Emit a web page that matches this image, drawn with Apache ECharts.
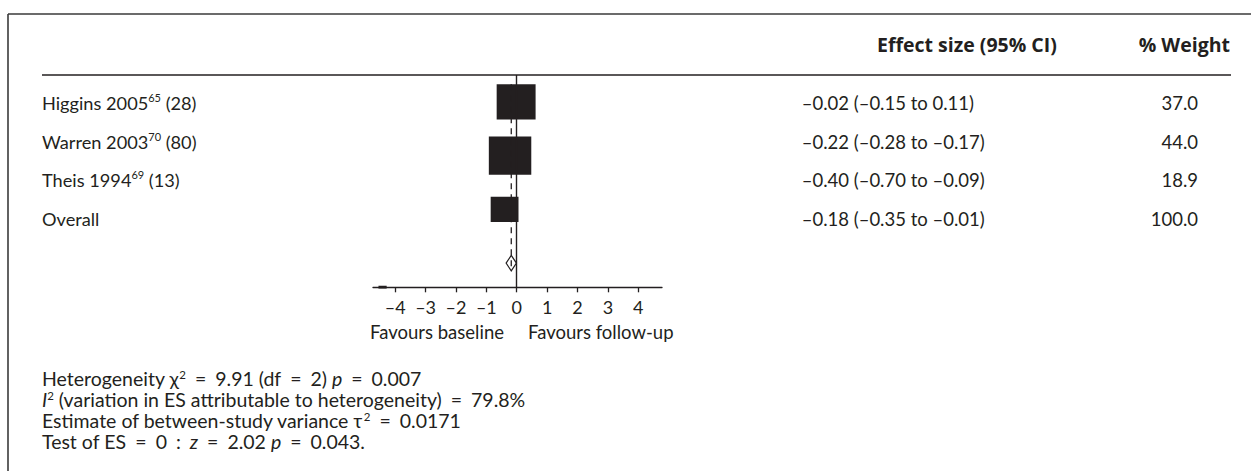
<!DOCTYPE html>
<html>
<head>
<meta charset="utf-8">
<script src="https://cdn.jsdelivr.net/npm/echarts@6/dist/echarts.min.js"></script>
<style>
  html, body { margin: 0; padding: 0; background: #ffffff; }
  #chart { width: 1251px; height: 471px; }
</style>
</head>
<body>
<div id="chart"></div>
<script>
// Studies in the meta-analysis (last row is the pooled estimate)
const studies = ['Higgins 2005', 'Warren 2003', 'Theis 1994', 'Overall'];
const refs = ['65', '70', '69', ''];
const sampleSizes = ['28', '80', '13', ''];
const effect = [-0.02, -0.22, -0.40, -0.18];
const ciLow = [-0.15, -0.28, -0.70, -0.35];
const ciHigh = [0.11, -0.17, -0.09, -0.01];
const weight = [37.0, 44.0, 18.9, 100.0];
const xTicks = [-4, -3, -2, -1, 0, 1, 2, 3, 4];
const axisStub = [-4.55, -4.28];
const favourLabels = ['Favours baseline', 'Favours follow-up'];

// Heterogeneity statistics shown under the plot
const footnotes = [
  '{n|Heterogeneity \u03c7}{sup|2}{eq| = }{n|9.91 (df}{eq| = }{n|2) }{i|p}{eq| = }{n|0.007}',
  '{i|I}{sup|2}{n| (variation in ES attributable to heterogeneity)}{eq| = }{n|79.8%}',
  '{n|Estimate of between-study variance \u03c4}{sup|2}{eq| = }{n|0.0171}',
  '{n|Test of ES}{eq| = }{n|0}{eq| : }{i|z}{eq| = }{n|2.02 }{i|p}{eq| = }{n|0.043.}'
];

const INK = '#231f20';
const FONT = 'Lato, "DejaVu Sans", sans-serif';
const HEAD_FONT = '"Open Sans", Lato, sans-serif';
const FS = 18.2;
const FOOT_FS = 19.5;
const BOX_SCALE = 6.4;          // px per sqrt(% weight)
const DIAMOND_HALF = 7.8;       // px

const nStudies = studies.length - 1;
const rowY = studies.map((_, i) => studies.length - i);   // 4,3,2,1 top to bottom
const overallIdx = studies.length - 1;

const dash = v => (v < 0 ? '\u2013' : '') + Math.abs(v).toFixed(2);
const effectText = effect.map((e, i) => `${dash(e)} (${dash(ciLow[i])} to ${dash(ciHigh[i])})`);
const weightText = weight.map(w => w.toFixed(1));

const studyRows = effect.slice(0, nStudies).map((e, i) => [e, rowY[i], weight[i], ciLow[i], ciHigh[i]]);

const baseText = { fontFamily: FONT, fontSize: 18.5, color: INK };
const labelRich = {
  n: { fontFamily: FONT, fontSize: FS, color: INK, lineHeight: 22 },
  sup: { fontFamily: FONT, fontSize: 11, color: INK, verticalAlign: 'top', lineHeight: 12 }
};
const footRich = {
  n: { fontFamily: FONT, fontSize: FOOT_FS, color: INK, lineHeight: 20 },
  i: { fontFamily: FONT, fontSize: FOOT_FS, color: INK, fontStyle: 'italic', lineHeight: 20 },
  eq: { fontFamily: FONT, fontSize: FOOT_FS, color: INK, lineHeight: 20, padding: [0, 4, 0, 4] },
  sup: { fontFamily: FONT, fontSize: 11.5, color: INK, verticalAlign: 'top', lineHeight: 12 }
};

const chart = echarts.init(document.getElementById('chart'), null, { renderer: 'svg' });

chart.setOption({
  animation: false,
  backgroundColor: '#ffffff',
  grid: [
    { left: 373, right: 589, top: 75, bottom: 183.7 },
    { left: 42, right: 53, top: 83.75, height: 154 }
  ],
  xAxis: [
    {
      gridIndex: 0, type: 'value', min: -4.73, max: 4.78,
      axisLine: { show: true, onZero: false, lineStyle: { color: INK, width: 1.3 } },
      axisTick: { show: true, customValues: xTicks, length: 5, lineStyle: { color: INK, width: 1.3 } },
      axisLabel: {
        customValues: xTicks, margin: 11, fontFamily: FONT, fontSize: 18, color: INK,
        formatter: v => (v < 0 ? '\u2013' : '') + Math.abs(v)
      },
      splitLine: { show: false }
    },
    { gridIndex: 1, type: 'value', show: false }
  ],
  yAxis: [
    { gridIndex: 0, type: 'value', min: 0.55, max: 4.5, show: false },
    {
      gridIndex: 1, type: 'category', inverse: true, data: studies, position: 'left',
      axisLine: { show: false }, axisTick: { show: false },
      axisLabel: {
        align: 'left', margin: 0, rich: labelRich,
        formatter: (v, i) => refs[i]
          ? `{n|${v}}{sup|${refs[i]}}{n| (${sampleSizes[i]})}`
          : `{n|${v}}`
      }
    },
    {
      gridIndex: 1, type: 'category', inverse: true, data: effectText, position: 'left', offset: -759.7,
      axisLine: { show: false }, axisTick: { show: false },
      axisLabel: Object.assign({ align: 'left', margin: 0 }, baseText)
    },
    {
      gridIndex: 1, type: 'category', inverse: true, data: weightText, position: 'right',
      axisLine: { show: false }, axisTick: { show: false },
      axisLabel: Object.assign({ align: 'right', margin: 0 }, baseText)
    }
  ],
  series: [
    {
      // line of no effect
      type: 'line', xAxisIndex: 0, yAxisIndex: 0, data: [], silent: true,
      markLine: {
        symbol: 'none', silent: true, label: { show: false },
        lineStyle: { color: INK, width: 1.4, type: 'solid' },
        data: [{ xAxis: 0 }]
      }
    },
    {
      // confidence intervals
      type: 'custom', xAxisIndex: 0, yAxisIndex: 0, silent: true,
      data: studyRows,
      renderItem: (params, api) => {
        const a = api.coord([api.value(3), api.value(1)]);
        const b = api.coord([api.value(4), api.value(1)]);
        return { type: 'line', shape: { x1: a[0], y1: a[1], x2: b[0], y2: b[1] },
                 style: { stroke: INK, lineWidth: 1.3 } };
      }
    },
    {
      // weighted study boxes
      type: 'custom', xAxisIndex: 0, yAxisIndex: 0, silent: true,
      data: studyRows,
      renderItem: (params, api) => {
        const c = api.coord([api.value(0), api.value(1)]);
        const side = BOX_SCALE * Math.sqrt(api.value(2));
        return { type: 'rect',
                 shape: { x: c[0] - side / 2, y: c[1] - side * 0.45, width: side, height: side * 0.9 },
                 style: { fill: INK } };
      }
    },
    {
      // pooled estimate diamond
      type: 'custom', xAxisIndex: 0, yAxisIndex: 0, silent: true,
      data: [[effect[overallIdx], rowY[overallIdx], ciLow[overallIdx], ciHigh[overallIdx]]],
      renderItem: (params, api) => {
        const y = api.value(1);
        const l = api.coord([api.value(2), y]);
        const m = api.coord([api.value(0), y]);
        const r = api.coord([api.value(3), y]);
        return { type: 'polygon',
                 shape: { points: [[l[0], l[1]], [m[0], m[1] - DIAMOND_HALF], [r[0], r[1]], [m[0], m[1] + DIAMOND_HALF]] },
                 style: { fill: 'none', stroke: INK, lineWidth: 1.2 } };
      }
    },
    {
      // pooled estimate reference line
      type: 'line', xAxisIndex: 0, yAxisIndex: 0, silent: true, symbol: 'none',
      lineStyle: { color: INK, width: 1.3, type: [6, 5] },
      data: [[effect[overallIdx], rowY[0] + 0.33], [effect[overallIdx], rowY[overallIdx] - 0.14]]
    },
    {
      type: 'line', xAxisIndex: 0, yAxisIndex: 0, silent: true, symbol: 'none',
      lineStyle: { color: INK, width: 3 },
      data: axisStub.map(v => [v, 0.55])
    }
  ],
  graphic: [
    { type: 'line', shape: { x1: 8, y1: 14, x2: 1251, y2: 14 }, style: { stroke: '#3a3a3a', lineWidth: 1.6 } },
    { type: 'line', shape: { x1: 8, y1: 14, x2: 8, y2: 471 }, style: { stroke: '#3a3a3a', lineWidth: 1.6 } },
    { type: 'line', shape: { x1: 42, y1: 75, x2: 1231, y2: 75 }, style: { stroke: INK, lineWidth: 1.3 } },
    { type: 'text', x: 877, y: 44, style: { text: 'Effect size (95% CI)', font: `bold 19.5px ${HEAD_FONT}`, fill: INK, verticalAlign: 'middle' } },
    { type: 'text', x: 1230, y: 44, style: { text: '% Weight', font: `bold 19.5px ${HEAD_FONT}`, fill: INK, align: 'right', verticalAlign: 'middle' } },
    { type: 'text', x: 504, y: 332, style: { text: favourLabels[0], font: `18.5px ${FONT}`, fill: INK, align: 'right', verticalAlign: 'middle' } },
    { type: 'text', x: 528, y: 332, style: { text: favourLabels[1], font: `18.5px ${FONT}`, fill: INK, align: 'left', verticalAlign: 'middle' } }
  ].concat(footnotes.map((t, i) => ({
    type: 'text', x: 42, y: 378 + i * 21,
    style: { text: t, rich: footRich, font: `${FOOT_FS}px ${FONT}`, fill: INK, verticalAlign: 'middle' }
  })))
});
</script>
</body>
</html>
